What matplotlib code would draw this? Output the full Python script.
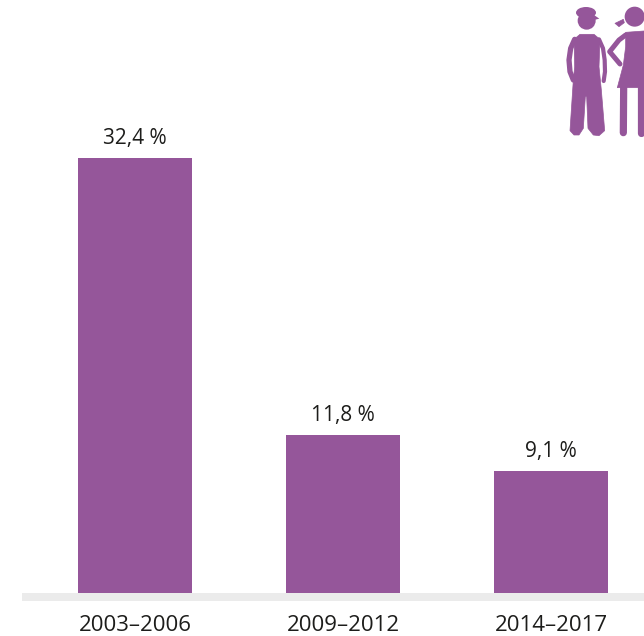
import matplotlib
matplotlib.use("Agg")
import matplotlib.pyplot as plt
from matplotlib.patches import Circle, Ellipse, Polygon

periods = ["2003–2006", "2009–2012", "2014–2017"]
values = [32.4, 11.8, 9.1]
value_labels = ["32,4 %", "11,8 %", "9,1 %"]

PURPLE = "#95569a"
TEXT = "#1d1d1b"

plt.rcParams["font.family"] = ["Open Sans", "DejaVu Sans"]

W, H = 644, 636
fig = plt.figure(figsize=(W / 100, H / 100), dpi=100)

# axes runs from the left end of the grey band to the right edge, baseline at y=593
ax = fig.add_axes([22 / W, (H - 593) / H, (W - 22) / W, 593 / H])
ind = range(len(values))
ax.bar(ind, values, 0.548, color=PURPLE)
for i, v in enumerate(values):
    ax.annotate(value_labels[i], (i, v), xytext=(0, 6), textcoords="offset points",
                ha="center", va="bottom", fontsize=15, color=TEXT)

ax.set_xlim(-0.543, 2.447)
ax.set_ylim(0, 44.15)
ax.set_xticks(list(ind))
ax.set_xticklabels(periods)
ax.set_yticks([])
ax.tick_params(axis="x", length=0, pad=13, labelsize=16, labelcolor=TEXT)
for s in ["top", "left", "right"]:
    ax.spines[s].set_visible(False)
ax.spines["bottom"].set_color("#ebebeb")
ax.spines["bottom"].set_linewidth(5.76)
ax.spines["bottom"].set_position(("outward", 2.88))
ax.spines["bottom"].set_capstyle("butt")

# pictogram, overlay in zoomed-crop pixel coordinates (3x, origin at x=544)
icon = fig.add_axes([0, 0, 1, 1])
icon.set_xlim(-544 * 3, (W - 544) * 3)
icon.set_ylim(H * 3, 0)
icon.axis("off")
icon.patch.set_alpha(0)

man = [(108, 103), (150, 103), (168, 118), (165, 200), (172, 270), (182, 392), (165, 407),
       (148, 405), (132, 385), (128, 290), (124, 290), (118, 385), (105, 405), (90, 405),
       (78, 392), (88, 240), (92, 200), (90, 118)]
dress = [(245, 97), (300, 93), (300, 263), (220, 263), (238, 195), (245, 140)]
pigtail = [(213, 70), (238, 58), (241, 68), (225, 80)]
for pts in [man, dress, pigtail]:
    icon.add_patch(Polygon(pts, closed=True, fc=PURPLE, ec=PURPLE, lw=0.5, joinstyle="round"))

# arms and her legs as thick round strokes
icon.plot([92, 80, 75, 78, 88], [118, 145, 180, 215, 240], color=PURPLE, lw=3.8,
          solid_capstyle="round", solid_joinstyle="round")
icon.plot([165, 177, 182, 183, 179], [118, 145, 180, 215, 243], color=PURPLE, lw=3.0,
          solid_capstyle="round", solid_joinstyle="round")
icon.plot([245, 225, 197, 228], [105, 120, 155, 192], color=PURPLE, lw=3.6,
          solid_capstyle="round", solid_joinstyle="round")
icon.plot([239, 238], [262, 398], color=PURPLE, lw=5.2, solid_capstyle="round")
icon.plot([290, 290], [262, 398], color=PURPLE, lw=5.2, solid_capstyle="round")

icon.add_patch(Circle((128, 62), 27, fc=PURPLE, ec="none"))
icon.add_patch(Ellipse((126, 38), 60, 34, fc=PURPLE, ec="none"))
icon.add_patch(Polygon([(150, 45), (166, 56), (150, 60)], closed=True, fc=PURPLE, ec="none"))
icon.add_patch(Circle((272, 50), 30, fc=PURPLE, ec="none"))

fig.savefig("out.png", dpi=100)
